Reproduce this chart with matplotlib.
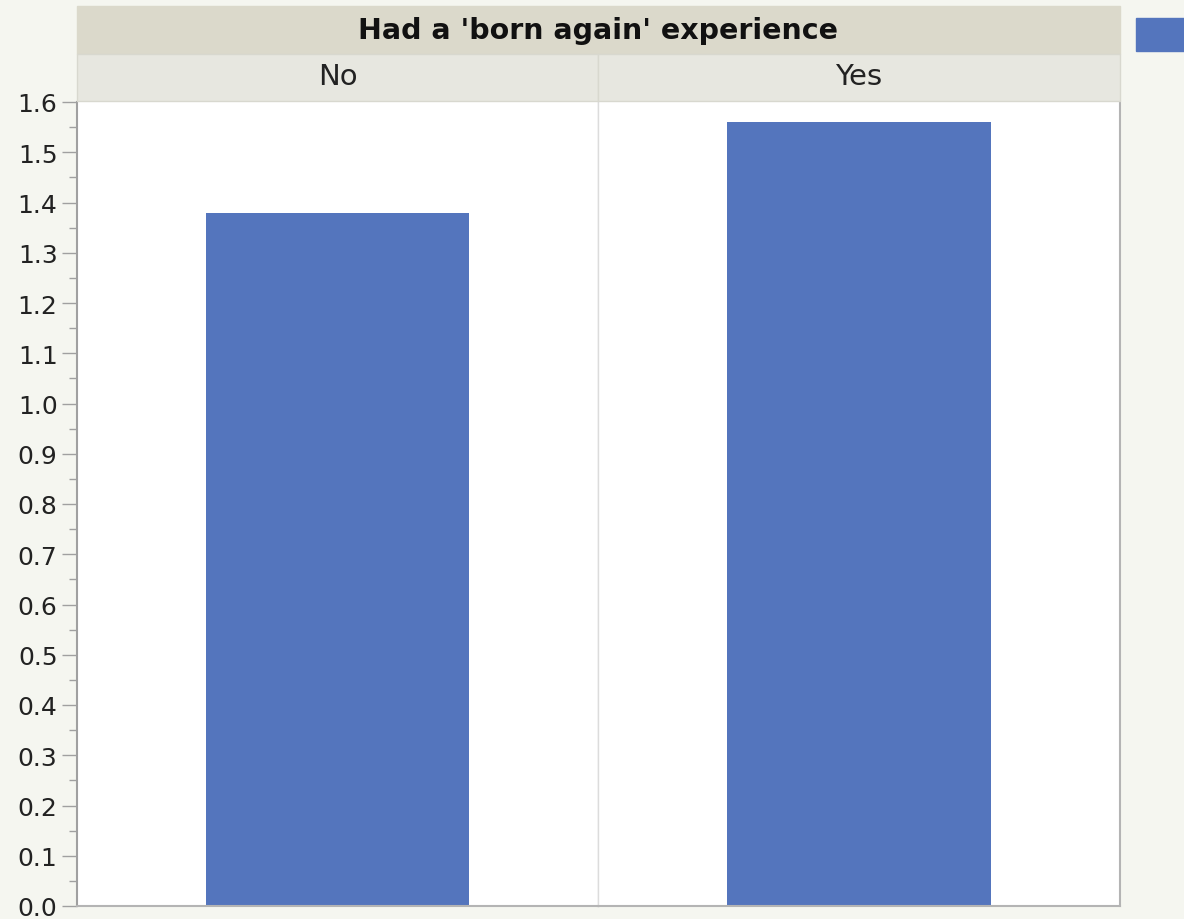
import matplotlib
matplotlib.use("Agg")
import matplotlib.pyplot as plt
from matplotlib.patches import Rectangle

title = "Had a 'born again' experience"
groups = ["No", "Yes"]
values = [1.38, 1.56]
bar_color = "#5475bd"

plt.rcParams["font.family"] = "DejaVu Sans"

fig = plt.figure(figsize=(11.84, 9.2), dpi=100)
fig.patch.set_facecolor("#f5f6f0")

W, H = 1184, 920
left, mid, right = 77 / W, 598 / W, 1120 / W
bottom, top = 1 - 907 / H, 1 - 103 / H

axes = []
for i, (x0, x1) in enumerate([(left, mid), (mid, right)]):
    ax = fig.add_axes([x0, bottom, x1 - x0, top - bottom])
    ax.bar([0], [values[i]], width=0.505, color=bar_color)
    ax.set_xlim(-0.5, 0.5)
    ax.set_ylim(0, 1.6)
    ax.set_xticks([])
    ax.set_facecolor("white")
    for s in ax.spines.values():
        s.set_color("#dcdcdc")
        s.set_linewidth(1)
    ax.spines["bottom"].set_color("#b4b4b4")
    ax.spines["bottom"].set_linewidth(1.5)
    axes.append(ax)

ax1, ax2 = axes
ax1.set_yticks([i / 10 for i in range(17)])
ax1.set_yticks([i / 20 for i in range(33)], minor=True)
ax1.set_yticklabels([f"{i / 10:.1f}" for i in range(17)])
ax1.tick_params(axis="y", which="major", length=11, width=1, color="#a0a0a0",
                labelsize=18, labelcolor="#222222", pad=3)
ax1.tick_params(axis="y", which="minor", length=6, width=1, color="#a0a0a0")
ax1.spines["left"].set_color("#a0a0a0")
ax1.spines["left"].set_linewidth(1.5)
ax1.spines["top"].set_visible(False)
ax2.set_yticks([])
ax2.spines["right"].set_color("#b4b4b4")
ax2.spines["right"].set_linewidth(1.5)
ax2.spines["top"].set_visible(False)

# header bands
sub_y0, sub_y1 = 1 - 102 / H, 1 - 55 / H
ttl_y0, ttl_y1 = 1 - 55 / H, 1 - 7 / H
fig.patches.append(Rectangle((left, ttl_y0), right - left, ttl_y1 - ttl_y0,
                             transform=fig.transFigure, color="#dbd9cb"))
for i, (x0, x1) in enumerate([(left, mid), (mid, right)]):
    fig.patches.append(Rectangle((x0, sub_y0), x1 - x0, sub_y1 - sub_y0,
                                 transform=fig.transFigure, facecolor="#e7e7e0",
                                 edgecolor="#d8d8cf", linewidth=1))
    fig.text((x0 + x1) / 2, (sub_y0 + sub_y1) / 2 + 0.002, groups[i], ha="center",
             va="center", fontsize=21, color="#222222")
fig.text((left + right) / 2, (ttl_y0 + ttl_y1) / 2, title, ha="center",
         va="center", fontsize=20.5, fontweight="bold", color="#111111")

# legend swatch (cut off at the right edge)
fig.patches.append(Rectangle((1136 / W, 1 - 52 / H), 60 / W, 33 / H,
                             transform=fig.transFigure, color=bar_color))

fig.savefig("out.png", dpi=100, facecolor=fig.get_facecolor())
